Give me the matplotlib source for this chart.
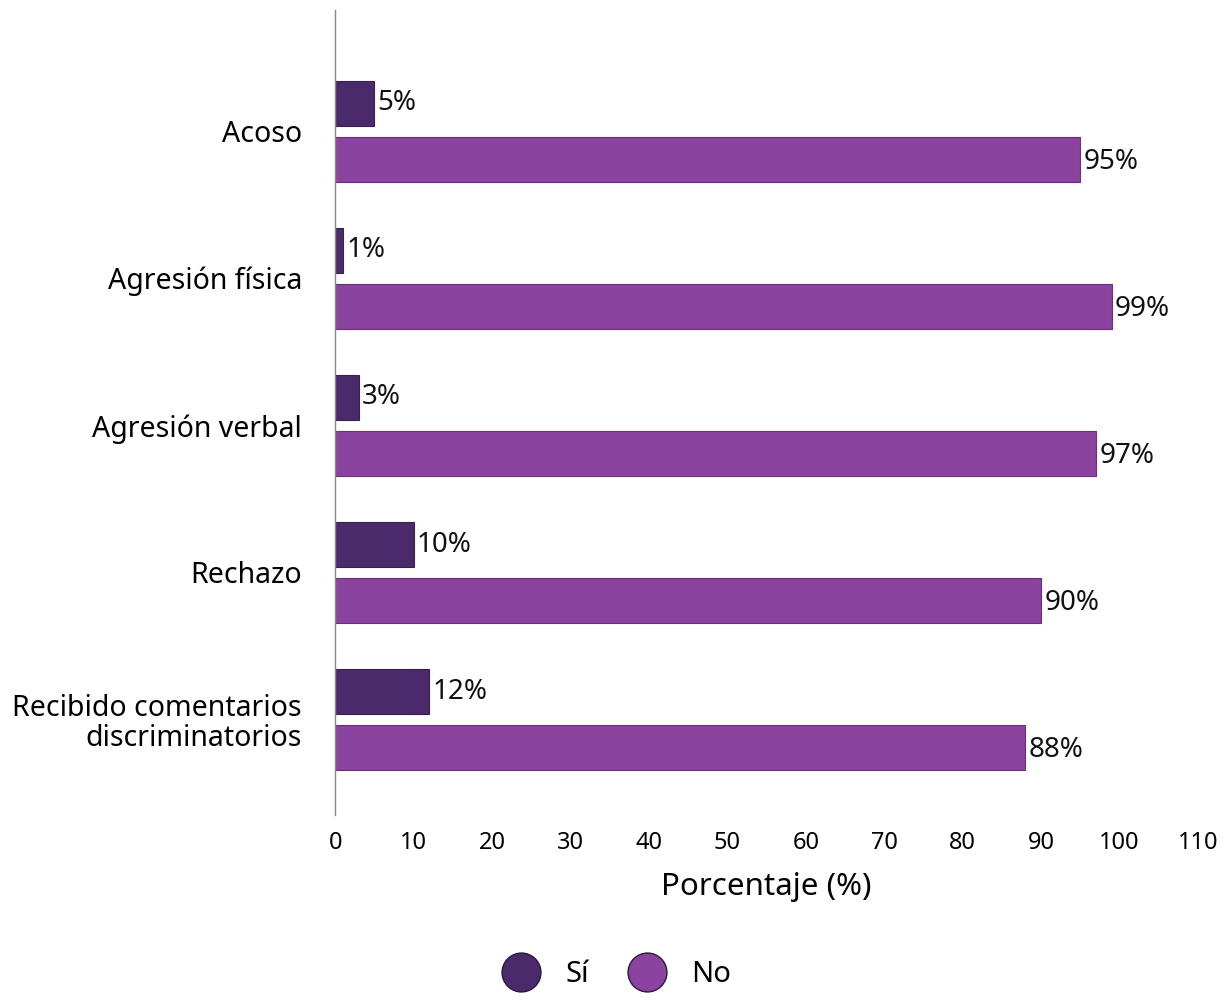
import matplotlib
matplotlib.use("Agg")
import matplotlib.pyplot as plt
from matplotlib.lines import Line2D
import numpy as np

plt.rcParams['font.family'] = ['Noto Sans', 'DejaVu Sans']

categories = ["Acoso", "Agresión física", "Agresión verbal", "Rechazo",
              "Recibido comentarios\ndiscriminatorios"]
si_values = [5, 1, 3, 10, 12]
no_values = [95, 99, 97, 90, 88]
xticks = [0, 10, 20, 30, 40, 50, 60, 70, 80, 90, 100, 110]
series_names = ["Sí", "No"]

c_si = "#4b2a6b"
c_no = "#8c43a0"

fig = plt.figure(figsize=(12.28, 10.02), dpi=100)
ax = fig.add_axes([0.273, 0.187, 0.7026, 0.803])

y = np.arange(len(categories))
h = 0.306
off = 0.19
ax.barh(y - off, si_values, height=h, color=c_si, edgecolor="#3a2050", linewidth=0.8)
ax.barh(y + off, no_values, height=h, color=c_no, edgecolor="#6a2f7a", linewidth=0.8)

for yi, v in zip(y, si_values):
    ax.text(v + 0.4, yi - off, f"{v}%", va="center", ha="left", fontsize=20, color="#111111")
for yi, v in zip(y, no_values):
    ax.text(v + 0.4, yi + off + 0.02, f"{v}%", va="center", ha="left", fontsize=20, color="#111111")

ax.set_xlim(0, 110)
ax.set_ylim(4.646, -0.823)
ax.set_yticks(y)
ax.set_yticklabels(categories, fontsize=20.5, linespacing=1.05)
ax.set_xticks(xticks)
ax.set_xticklabels([str(t) for t in xticks], fontsize=17)
ax.tick_params(axis="both", length=0)
ax.tick_params(axis="y", pad=24)
ax.tick_params(axis="x", pad=12)
for s in ["top", "right", "bottom"]:
    ax.spines[s].set_visible(False)
ax.spines["left"].set_color("#888888")
ax.spines["left"].set_linewidth(1.0)
ax.set_xlabel("Porcentaje (%)", fontsize=22.5, labelpad=12)

handles = [Line2D([], [], marker="o", linestyle="none", markersize=28, markerfacecolor=c,
                  markeredgecolor="#2a1a3a", markeredgewidth=1.0) for c in (c_si, c_no)]
fig.legend(handles, series_names, loc="center", bbox_to_anchor=(0.498, 0.027), ncol=2,
           frameon=False, fontsize=21, handletextpad=0.5, columnspacing=1.0)

fig.savefig("out.png", dpi=100)
